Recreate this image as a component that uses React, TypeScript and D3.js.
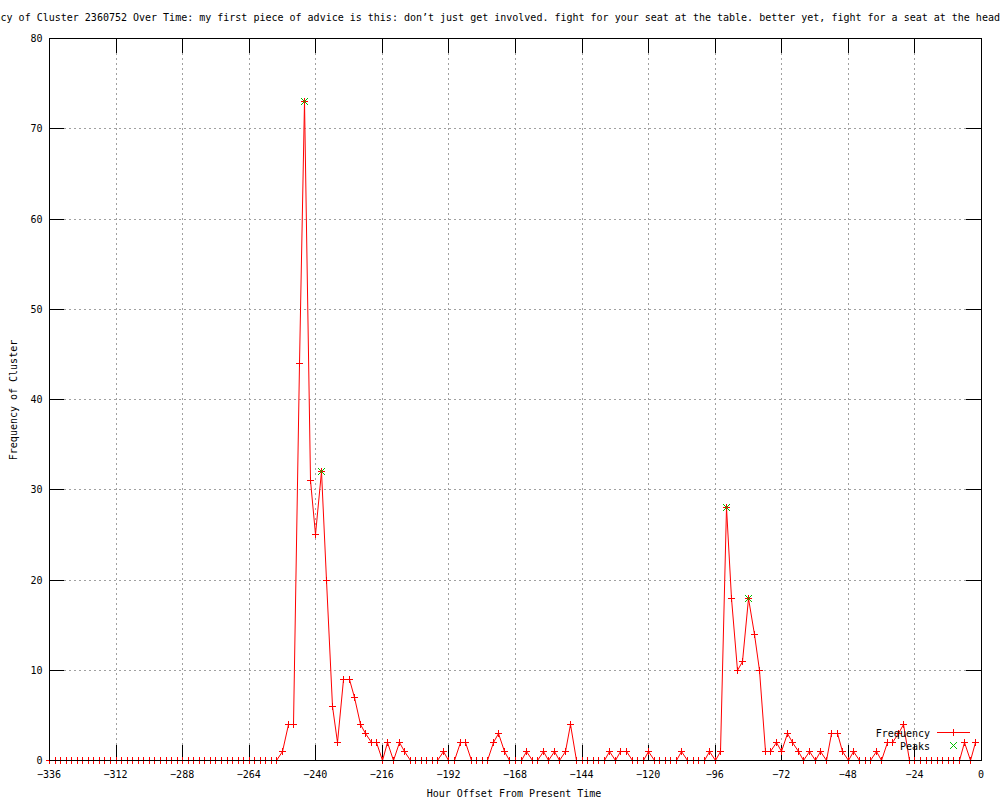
import React from "react";
import * as d3 from "d3";

const TITLE =
  "Frequency of Cluster 2360752 Over Time: my first piece of advice is this: don’t just get involved. fight for your seat at the table. better yet, fight for a seat at the head";
const X_LABEL = "Hour Offset From Present Time";
const Y_LABEL = "Frequency of Cluster";

// hours from -336 to -2, every 2 hours
const hours: number[] = d3.range(-336, 0, 2);
// frequency per 2-hour bucket, 12 values per row (24 hours)
const frequency: number[] = [
  0, 0, 0, 0, 0, 0, 0, 0, 0, 0, 0, 0, // -336..-314
  0, 0, 0, 0, 0, 0, 0, 0, 0, 0, 0, 0, // -312..-290
  0, 0, 0, 0, 0, 0, 0, 0, 0, 0, 0, 0, // -288..-266
  0, 0, 0, 0, 0, 0, 1, 4, 4, 44, 73, 31, // -264..-242
  25, 32, 20, 6, 2, 9, 9, 7, 4, 3, 2, 2, // -240..-218
  0, 2, 0, 2, 1, 0, 0, 0, 0, 0, 0, 1, // -216..-194
  0, 0, 2, 2, 0, 0, 0, 0, 2, 3, 1, 0, // -192..-170
  0, 0, 1, 0, 0, 1, 0, 1, 0, 1, 4, 0, // -168..-146
  0, 0, 0, 0, 0, 1, 0, 1, 1, 0, 0, 0, // -144..-122
  1, 0, 0, 0, 0, 0, 1, 0, 0, 0, 0, 1, // -120..-98
  0, 1, 28, 18, 10, 11, 18, 14, 10, 1, 1, 2, // -96..-74
  1, 3, 2, 1, 0, 1, 0, 1, 0, 3, 3, 1, // -72..-50
  0, 1, 0, 0, 0, 1, 0, 2, 2, 3, 4, 0, // -48..-26
  0, 0, 0, 0, 0, 0, 0, 0, 0, 2, 0, 2, // -24..-2
];
const peakHours: number[] = [-244, -238, -92, -84];
const peakValues: number[] = [73, 32, 28, 18];

const xTicks: number[] = [-336, -312, -288, -264, -240, -216, -192, -168, -144, -120, -96, -72, -48, -24, 0];
const yTicks: number[] = [0, 10, 20, 30, 40, 50, 60, 70, 80];

const W = 1000;
const H = 800;
const L = 49;
const R = 981;
const T = 38;
const B = 760;
const TICK = 15;
const FONT = "'DejaVu Sans Mono', monospace";
const RED = "#ff0000";
const GREEN = "#00c000";
const GRID = "#a0a0a0";

const px = (v: number) => Math.round(v) + 0.5;

export default function App() {
  const sx = d3.scaleLinear().domain([-336, 0]).range([L, R]);
  const sy = d3.scaleLinear().domain([0, 80]).range([B, T]);

  const pts = hours.map((h, i) => [px(sx(h)), px(sy(frequency[i]))] as [number, number]);
  const line = d3.line<[number, number]>().x((d) => d[0]).y((d) => d[1])(pts) || "";

  const plus = (x: number, y: number) => `M${x - 3.5},${y}h7M${x},${y - 3.5}v7`;
  const cross = (x: number, y: number) => `M${x - 3.5},${y - 3.5}l7,7M${x - 3.5},${y + 3.5}l7,-7`;

  const plusPath = pts.map(([x, y]) => plus(x, y)).join("");
  const peakPath = peakHours
    .map((h, i) => cross(px(sx(h)), px(sy(peakValues[i]))))
    .join("");

  return (
    <svg
      width={W}
      height={H}
      viewBox={`0 0 ${W} ${H}`}
      style={{ position: "absolute", left: 0, top: 0, background: "#fff", overflow: "hidden" }}
      fontFamily={FONT}
      fontSize={10}
    >
      <rect x={0} y={0} width={W} height={H} fill="#fff" />
      {/* grid */}
      <g stroke={GRID} strokeWidth={1} strokeDasharray="2,3" shapeRendering="crispEdges">
        {xTicks
          .filter((t) => t !== -336 && t !== 0)
          .map((t) => (
            <line key={"gx" + t} x1={px(sx(t))} x2={px(sx(t))} y1={T} y2={B} />
          ))}
        {yTicks
          .filter((t) => t !== 0 && t !== 80)
          .map((t) => (
            <line key={"gy" + t} x1={L} x2={R} y1={px(sy(t))} y2={px(sy(t))} />
          ))}
      </g>
      {/* ticks */}
      <g stroke="#000" strokeWidth={1} shapeRendering="crispEdges">
        {xTicks.map((t) => (
          <g key={"tx" + t}>
            <line x1={px(sx(t))} x2={px(sx(t))} y1={B} y2={B - TICK} />
            <line x1={px(sx(t))} x2={px(sx(t))} y1={T} y2={T + TICK} />
          </g>
        ))}
        {yTicks.map((t) => (
          <g key={"ty" + t}>
            <line x1={L} x2={L + TICK} y1={px(sy(t))} y2={px(sy(t))} />
            <line x1={R} x2={R - TICK} y1={px(sy(t))} y2={px(sy(t))} />
          </g>
        ))}
      </g>
      {/* tick labels */}
      <g fill="#000">
        {xTicks.map((t) => (
          <text key={"lx" + t} x={sx(t)} y={778} textAnchor="middle">
            {t === 0 ? "0" : "\u2212" + Math.abs(t)}
          </text>
        ))}
        {yTicks.map((t) => (
          <text key={"ly" + t} x={42.5} y={sy(t) + 4} textAnchor="end">
            {t}
          </text>
        ))}
      </g>
      {/* axis labels and title */}
      <text x={514} y={797} textAnchor="middle" fill="#000">
        {X_LABEL}
      </text>
      <text
        transform={`translate(17,400) rotate(-90)`}
        textAnchor="middle"
        fill="#000"
      >
        {Y_LABEL}
      </text>
      <text x={-41.6} y={21} fill="#000">
        {TITLE}
      </text>
      {/* data */}
      <path d={line} fill="none" stroke={RED} strokeWidth={1} />
      <path d={plusPath} fill="none" stroke={RED} strokeWidth={1} shapeRendering="crispEdges" />
      <path d={peakPath} fill="none" stroke={GREEN} strokeWidth={1} />
      {/* border */}
      <rect
        x={L + 0.5}
        y={T + 0.5}
        width={R - L}
        height={B - T}
        fill="none"
        stroke="#000"
        strokeWidth={1}
        shapeRendering="crispEdges"
      />
      {/* legend */}
      <text x={930} y={737} textAnchor="end" fill="#000">
        Frequency
      </text>
      <line x1={937} x2={970} y1={732.5} y2={732.5} stroke={RED} shapeRendering="crispEdges" />
      <path d={plus(953.5, 732.5)} stroke={RED} fill="none" shapeRendering="crispEdges" />
      <text x={930} y={750} textAnchor="end" fill="#000">
        Peaks
      </text>
      <path d={cross(953.5, 745.5)} stroke={GREEN} fill="none" />
    </svg>
  );
}
